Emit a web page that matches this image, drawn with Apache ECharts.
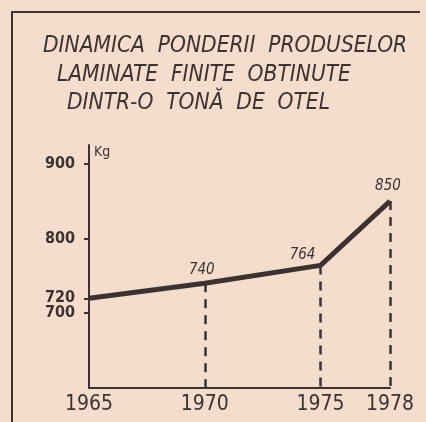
<!DOCTYPE html>
<html>
<head>
<meta charset="utf-8">
<script src="https://cdn.jsdelivr.net/npm/echarts@6/dist/echarts.min.js"></script>
<style>
  html, body { margin: 0; padding: 0; background: #f4ddcd; }
  #chart { width: 426px; height: 422px; }
</style>
</head>
<body>
<div id="chart"></div>
<script>
// date
const years = [1965, 1970, 1975, 1978];
const values = [720, 740, 764, 850];
const yTicks = [720, 800, 900];
const yTicksLow = [700];
const titleLines = [
  'DINAMICA  PONDERII  PRODUSELOR',
  'LAMINATE  FINITE  OBTINUTE',
  'DINTR-O  TONĂ  DE  OTEL'
];

const ink = '#3d3230';
const handFont = '"DejaVu Sans Condensed", "DejaVu Sans", sans-serif';

let myChart = echarts.init(document.getElementById('chart'), null, { renderer: 'canvas' });

// pozitia etichetelor de valoare
let labelPos = [
  { show: false },
  { show: true, position: 'top', offset: [-3, 0] },
  { show: true, position: 'top', offset: [-18, 3] },
  { show: true, position: 'top', offset: [-2, -2] }
];

let seriesData = years.map(function (y, i) {
  return { value: [y, values[i]], label: labelPos[i] };
});

// linii punctate de la puncte la axa
let dropLines = [];
for (let i = 1; i < years.length; i++) {
  dropLines.push([
    { coord: [years[i], values[i]] },
    { coord: [years[i], 600] }
  ]);
}

let titleLeft = [43, 57, 67];
let titleTop = [35, 64, 92];

// stil comun pentru axele y
function yAxisCfg (ticks, withLine) {
  return {
    type: 'value',
    min: 600,
    max: 925,
    position: 'left',
    splitLine: { show: false },
    axisLine: { show: withLine, lineStyle: { color: ink, width: 2 } },
    axisTick: {
      show: true,
      customValues: ticks,
      length: 5,
      lineStyle: { color: ink, width: 2 }
    },
    axisLabel: {
      customValues: ticks,
      margin: 14,
      color: ink,
      fontFamily: handFont,
      fontWeight: 'bold',
      fontSize: 16
    }
  };
}

let yMain = yAxisCfg(yTicks, true);
yMain.name = 'Kg';
yMain.nameLocation = 'end';
yMain.nameGap = -14;
yMain.nameTextStyle = {
  align: 'left',
  padding: [0, 0, 0, 5],
  color: ink,
  fontFamily: handFont,
  fontSize: 14
};
let yLow = yAxisCfg(yTicksLow, false);

let option = {
  backgroundColor: '#f4ddcd',
  animation: false,
  title: titleLines.map(function (t, i) {
    return {
      text: t,
      left: titleLeft[i],
      top: titleTop[i],
      padding: 0,
      textStyle: {
        fontFamily: handFont,
        fontStyle: 'italic',
        fontWeight: 'normal',
        fontSize: 22.5,
        color: ink
      }
    };
  }),
  graphic: [
    {
      type: 'polyline',
      shape: { points: [[12, 422], [12, 12], [420, 12]] },
      style: { stroke: ink, lineWidth: 2, fill: null }
    }
  ],
  grid: {
    left: 89,
    right: 36,
    top: 145,
    bottom: 34
  },
  xAxis: {
    type: 'value',
    min: 1965,
    max: 1978,
    splitLine: { show: false },
    axisLine: { lineStyle: { color: ink, width: 2 } },
    axisTick: { show: false },
    axisLabel: {
      customValues: years,
      margin: 6,
      color: ink,
      fontFamily: handFont,
      fontSize: 21,
      formatter: function (v) { return String(v); }
    }
  },
  yAxis: [yMain, yLow],
  series: [
    {
      type: 'line',
      yAxisIndex: 0,
      data: seriesData,
      symbol: 'circle',
      symbolSize: 1,
      showSymbol: true,
      itemStyle: { color: ink },
      lineStyle: { color: ink, width: 5 },
      label: {
        color: ink,
        fontFamily: handFont,
        fontStyle: 'italic',
        fontSize: 15,
        formatter: function (p) { return p.value[1]; }
      },
      markLine: {
        silent: true,
        symbol: 'none',
        label: { show: false },
        lineStyle: { color: ink, width: 2.5, type: [9, 7] },
        data: dropLines
      },
      z: 3
    }
  ]
};

myChart.setOption(option);
</script>
</body>
</html>
